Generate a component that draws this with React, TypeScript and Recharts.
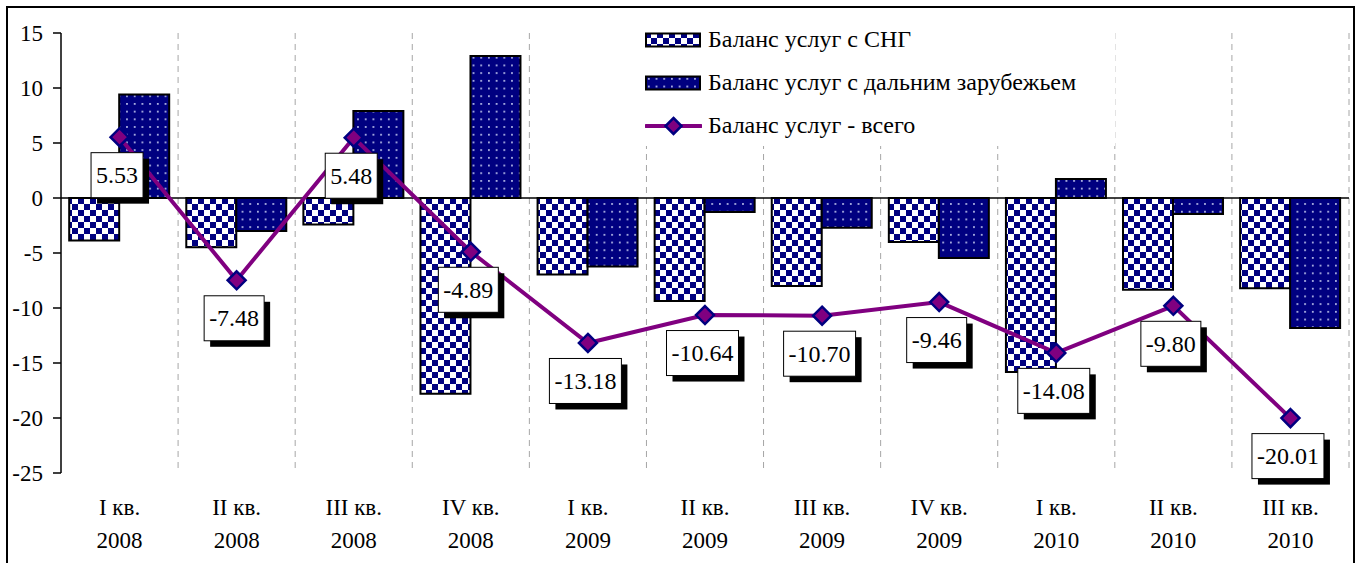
import {
  ComposedChart, Bar, Line, XAxis, YAxis, CartesianGrid, ReferenceLine, Legend, LabelList,
} from 'recharts'

const quarters = ['I кв.', 'II кв.', 'III кв.', 'IV кв.', 'I кв.', 'II кв.', 'III кв.', 'IV кв.', 'I кв.', 'II кв.', 'III кв.']
const years = ['2008', '2008', '2008', '2008', '2009', '2009', '2009', '2009', '2010', '2010', '2010']
const cisBalance = [-3.87, -4.48, -2.42, -17.79, -6.95, -9.37, -8.0, -4.0, -15.81, -8.35, -8.2]
const farBalance = [9.4, -3.0, 7.9, 12.9, -6.23, -1.27, -2.7, -5.46, 1.73, -1.45, -11.81]
const totalBalance = [5.53, -7.48, 5.48, -4.89, -13.18, -10.64, -10.7, -9.46, -14.08, -9.8, -20.01]
const yTicks = [-25, -20, -15, -10, -5, 0, 5, 10, 15]

const seriesNames = {
  cis: 'Баланс услуг с СНГ',
  far: 'Баланс услуг с дальним зарубежьем',
  total: 'Баланс услуг - всего',
}

const data = quarters.map((q, i) => ({
  q: q + ' ' + years[i],
  cis: cisBalance[i],
  far: farBalance[i],
  total: totalBalance[i],
}))

const NAVY = '#000080'
const PURPLE = '#800080'
const FONT = "'Liberation Serif', 'Times New Roman', serif"

// rough Times widths, enough to size the label boxes
function textWidth(s: string, size: number) {
  let w = 0
  for (const ch of s) {
    if (ch === '.') w += 0.25
    else if (ch === '-') w += 0.333
    else w += 0.5
  }
  return w * size
}

// dashed lines go between the quarters, not through them
function boundaryLines(props: any) {
  const off = props?.offset
  if (!off) return []
  const n = data.length
  const step = off.width / n
  return data.map((_, i) => off.left + (i + 1) * step)
}

const CategoryTick = ({ x, y, payload }: { x?: number; y?: number; payload?: { index: number } }) => {
  const i = payload?.index ?? 0
  return (
    <text x={x} y={y} textAnchor="middle" fontFamily={FONT} fontSize={23} fill="#000">
      <tspan x={x} dy={42}>{quarters[i]}</tspan>
      <tspan x={x} dy={33}>{years[i]}</tspan>
    </text>
  )
}

const Diamond = ({ cx, cy }: { cx?: number; cy?: number }) => {
  if (cx == null || cy == null) return null
  const r = 9
  return (
    <polygon
      points={`${cx},${cy - r} ${cx + r},${cy} ${cx},${cy + r} ${cx - r},${cy}`}
      fill={PURPLE}
      stroke={NAVY}
      strokeWidth={2.5}
    />
  )
}

const ValueBox = (props: { x?: number; y?: number; value?: number }) => {
  const { x, y, value } = props
  if (x == null || y == null || value == null) return null
  const txt = value.toFixed(2)
  const w = textWidth(txt, 24) + 10
  const h = 45
  const cx = x - 2.5
  const cy = y + 38
  return (
    <g>
      <rect x={cx - w / 2 + 6} y={cy - h / 2 + 6} width={w} height={h} fill="#000" />
      <rect x={cx - w / 2} y={cy - h / 2} width={w} height={h} fill="#fff" stroke="#000" strokeWidth={1} />
      <text x={cx} y={cy + 8} textAnchor="middle" fontFamily={FONT} fontSize={24} fill="#000">{txt}</text>
    </g>
  )
}

const LegendBox = () => {
  const row = { display: 'flex', alignItems: 'center', height: 43 }
  const text = { fontFamily: FONT, fontSize: 24, color: '#000', marginLeft: 6, whiteSpace: 'nowrap' as const }
  return (
    <div style={{ background: '#fff', padding: '0 0 0 7px', width: 470, height: 128 }}>
      <div style={row}>
        <svg width={57} height={16}>
          <rect x={1} y={1.5} width={54} height={13} fill="url(#checker)" stroke="#000" strokeWidth={2} />
        </svg>
        <span style={text}>{seriesNames.cis}</span>
      </div>
      <div style={row}>
        <svg width={57} height={16}>
          <rect x={1} y={1.5} width={54} height={13} fill="url(#dots)" stroke="#000" strokeWidth={2} />
        </svg>
        <span style={text}>{seriesNames.far}</span>
      </div>
      <div style={row}>
        <svg width={57} height={20}>
          <line x1={1} y1={10} x2={56} y2={10} stroke={PURPLE} strokeWidth={4} strokeLinecap="round" />
          <polygon points="28.5,2 36.5,10 28.5,18 20.5,10" fill={PURPLE} stroke={NAVY} strokeWidth={2.5} />
        </svg>
        <span style={text}>{seriesNames.total}</span>
      </div>
    </div>
  )
}

export default function App() {
  return (
    <div style={{ position: 'absolute', left: 0, top: 0, width: 1357, height: 563, background: '#fff', overflow: 'hidden' }}>
      <ComposedChart
        width={1357}
        height={563}
        data={data}
        margin={{ top: 33, right: 8, left: 0, bottom: 20 }}
        barGap={0}
        barCategoryGap="7%"
      >
        <defs>
          <pattern id="checker" width={12} height={12} patternUnits="userSpaceOnUse">
            <rect width={12} height={12} fill="#fff" />
            <rect width={6} height={6} fill={NAVY} />
            <rect x={6} y={6} width={6} height={6} fill={NAVY} />
          </pattern>
          <pattern id="dots" width={7.7} height={7.7} patternUnits="userSpaceOnUse">
            <rect width={7.7} height={7.7} fill={NAVY} />
            <rect x={3} y={3} width={1.6} height={1.6} fill="#dfe6ff" />
          </pattern>
        </defs>
        <CartesianGrid
          horizontal={false}
          stroke="#a6a6a6"
          strokeDasharray="6 5"
          verticalCoordinatesGenerator={boundaryLines}
        />
        <XAxis
          dataKey="q"
          axisLine={false}
          tickLine={false}
          tickSize={0}
          tickMargin={0}
          height={70}
          interval={0}
          tick={<CategoryTick />}
        />
        <YAxis
          domain={[-25, 15]}
          ticks={yTicks}
          width={61}
          axisLine={{ stroke: '#000', strokeWidth: 1.5 }}
          tickLine={{ stroke: '#000', strokeWidth: 1.5 }}
          tickSize={8}
          tickMargin={10}
          tick={{ fontFamily: FONT, fontSize: 23, fill: '#000' }}
        />
        <ReferenceLine y={0} stroke="#000" strokeWidth={1.5} />
        <Legend
          layout="vertical"
          align="center"
          verticalAlign="middle"
          content={<LegendBox />}
          wrapperStyle={{ position: 'absolute', left: 638, top: 18, width: 477, height: 128 }}
        />
        <Bar
          dataKey="cis"
          name={seriesNames.cis}
          fill="url(#checker)"
          stroke="#000"
          strokeWidth={2}
          isAnimationActive={false}
        />
        <Bar
          dataKey="far"
          name={seriesNames.far}
          fill="url(#dots)"
          stroke="#000"
          strokeWidth={2}
          isAnimationActive={false}
        />
        <Line
          dataKey="total"
          name={seriesNames.total}
          stroke={PURPLE}
          strokeWidth={4}
          dot={<Diamond />}
          activeDot={false}
          isAnimationActive={false}
        >
          <LabelList dataKey="total" content={<ValueBox />} />
        </Line>
      </ComposedChart>
      <div style={{
        position: 'absolute', left: 6, top: 6, width: 1349, height: 620,
        border: '2px solid #000', boxSizing: 'border-box', pointerEvents: 'none',
      }} />
    </div>
  )
}
